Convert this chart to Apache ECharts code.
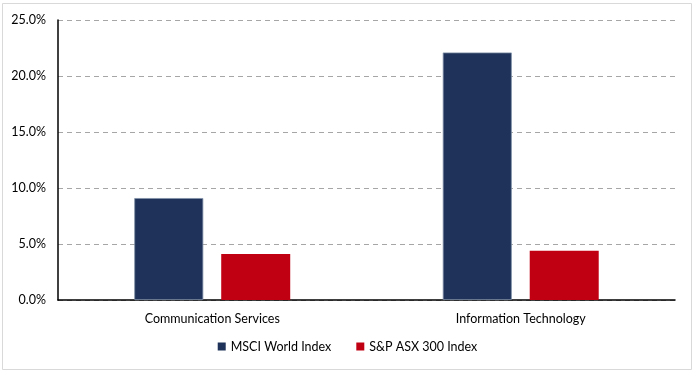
<!DOCTYPE html>
<html><head><meta charset="utf-8">
<script src="https://cdn.jsdelivr.net/npm/echarts@6/dist/echarts.min.js"></script>
<style>html,body{margin:0;padding:0;background:#fff}#c{width:695px;height:375px}</style>
</head><body><div id="c"></div>
<script>
const categories = ['Communication Services', 'Information Technology'];
const msciWorld = [9.1, 22.1];
const spAsx300 = [4.1, 4.4];
const seriesNames = ['MSCI World Index', 'S&P ASX 300 Index'];

const chart = echarts.init(document.getElementById('c'));
const font = 'Lato, "Open Sans", sans-serif';
chart.setOption({
  backgroundColor: '#fff',
  animation: false,
  graphic: [{type:'rect', shape:{x:2.5,y:3.5,width:689,height:366}, style:{fill:'none',stroke:'#d9d9d9',lineWidth:1}}],
  grid: {left: 58, right: 20, top: 20, bottom: 75},
  legend: {
    bottom: 17, left: 'center', itemWidth: 8, itemHeight: 8, itemGap: 25,
    icon: 'rect',
    itemStyle: {borderWidth: 0},
    textStyle: {fontFamily: font, fontSize: 12.5, color: '#000'},
    data: seriesNames
  },
  xAxis: {
    type: 'category', data: categories,
    axisLine: {lineStyle: {color: '#000', width: 1.5}},
    axisTick: {show: false},
    axisLabel: {fontFamily: font, fontSize: 12.5, color: '#000', margin: 12}
  },
  yAxis: {
    type: 'value', min: 0, max: 25, interval: 5,
    axisLine: {show: true, lineStyle: {color: '#000', width: 1.5}},
    axisTick: {show: false},
    axisLabel: {fontFamily: font, fontSize: 12.5, color: '#000', margin: 12,
      formatter: v => v.toFixed(1) + '%'},
    splitLine: {lineStyle: {color: '#a6a6a6', type: [5, 4]}}
  },
  series: [
    {name: seriesNames[0], type: 'bar', data: msciWorld, barWidth: 69, barGap: '26%',
     itemStyle: {color: '#1f3259', borderColor: '#8090a8', borderWidth: 0.8}},
    {name: seriesNames[1], type: 'bar', data: spAsx300, barWidth: 69,
     itemStyle: {color: '#c00012'}}
  ]
});
</script></body></html>
